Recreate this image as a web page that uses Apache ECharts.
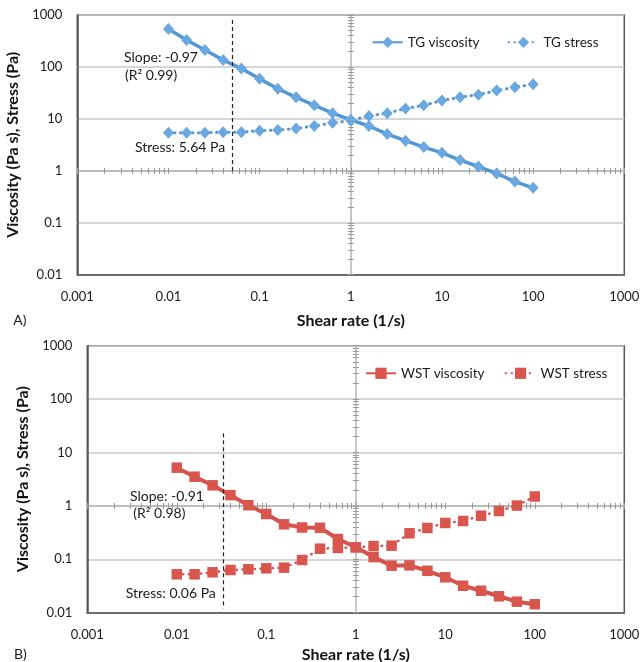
<!DOCTYPE html>
<html>
<head>
<meta charset="utf-8">
<script src="https://cdn.jsdelivr.net/npm/echarts@6/dist/echarts.min.js"></script>
<style>
  html, body { margin: 0; padding: 0; background: #fff; }
  #main { width: 641px; height: 662px; }
</style>
</head>
<body>
<div id="main"></div>
<script>
// shear rate steps (1/s), shared by both panels
var shearRate = [0.01, 0.0158, 0.0251, 0.0398, 0.0631, 0.1, 0.158, 0.251, 0.398, 0.631,
  1, 1.58, 2.51, 3.98, 6.31, 10, 15.8, 25.1, 39.8, 63.1, 100];

// panel A - TG
var tgViscosity = [538, 330, 212, 136, 93, 59, 38, 26, 18.3, 12.9,
  9.6, 7.3, 5.1, 3.8, 2.86, 2.22, 1.61, 1.21, 0.89, 0.62, 0.47];
var tgStress = [5.4, 5.4, 5.4, 5.55, 5.55, 5.9, 6.1, 6.5, 7.3, 8.4,
  9.3, 11.4, 12.9, 15.8, 18.3, 22.5, 26.1, 29.3, 35, 40.7, 46.4];

// panel B - WST
var wstViscosity = [5.19, 3.52, 2.43, 1.59, 1.03, 0.705, 0.452, 0.394, 0.389, 0.24,
  0.168, 0.11, 0.076, 0.077, 0.061, 0.046, 0.032, 0.0258, 0.0203, 0.0161, 0.0144];
var wstStress = [0.0524, 0.0524, 0.0571, 0.0631, 0.065, 0.0678, 0.0697, 0.097, 0.158, 0.163,
  0.168, 0.177, 0.18, 0.307, 0.386, 0.479, 0.521, 0.655, 0.802, 1.016, 1.5];

// tick labels
var xTicks = [0.001, 0.01, 0.1, 1, 10, 100, 1000];
var yTicks = [0.01, 0.1, 1, 10, 100, 1000];

// dashed guide lines [x, yTop, yBottom]
var tgGuide = [0.05, 800, 0.95];
var wstGuide = [0.033, 23, 0.012];

// log minor ticks (1..9 per decade) for the axes that cross at 1
function minorTicks(decades) {
  var out = [];
  for (var d = 0; d < decades.length - 1; d++) {
    for (var k = 1; k < 10; k++) out.push(+(decades[d] * k).toPrecision(3));
  }
  out.push(decades[decades.length - 1]);
  return out;
}
var xMinor = minorTicks(xTicks);
var yMinor = minorTicks(yTicks);

var FONT = "Lato";
var blueLine = "#5197d5", blueSym = "#6aa8df";
var redLine = "#d6524c", redSym = "#d9564f";

function pairs(ys) {
  return shearRate.map(function (x, i) { return [x, ys[i]]; });
}
function fmt(v) { return String(+(+v).toPrecision(3)); }

var grids = [
  { left: 77.3, top: 15, right: 16.7, height: 259.7 },
  { left: 87.3, top: 345.7, right: 16.7, height: 267 }
];
var crossX = [103.7, 106.8];   // px from grid bottom to the y = 1 line
var crossY = [273.6, 268.5];   // px from grid left to the x = 1 line

var xAxis = [], yAxis = [];
grids.forEach(function (g, gi) {
  g.show = true;
  g.borderColor = "#555";
  g.borderWidth = 1.5;
  g.outerBoundsMode = "none";
  g.containLabel = false;

  xAxis.push({
    type: "log", gridIndex: gi, min: 0.001, max: 1000, logBase: 10,
    name: "Shear rate (1/s)", nameLocation: "middle", nameGap: gi === 0 ? 38 : 34,
    nameTextStyle: { fontFamily: FONT, fontWeight: "bold", fontSize: 16, color: "#111" },
    axisLine: { show: true, onZero: false, lineStyle: { color: "#555", width: 1.5 } },
    axisTick: { show: false, customValues: xTicks },
    axisLabel: { customValues: xTicks, margin: 16, fontFamily: FONT, fontSize: 13, color: "#1a1a1a", formatter: fmt },
    splitLine: { show: false }
  });
  // y = 1 crossing axis, ticks down
  xAxis.push({
    type: "log", gridIndex: gi, min: 0.001, max: 1000, position: "bottom", offset: -crossX[gi],
    axisLine: { show: true, onZero: false, lineStyle: { color: "#b4b4b4", width: 1.5 } },
    axisTick: { show: true, customValues: xMinor, length: 3, lineStyle: { color: "#999" } },
    axisLabel: { show: false }, splitLine: { show: false }
  });
  // y = 1 crossing axis, ticks up
  xAxis.push({
    type: "log", gridIndex: gi, min: 0.001, max: 1000, position: "bottom", offset: -crossX[gi],
    axisLine: { show: false, onZero: false },
    axisTick: { show: true, inside: true, customValues: xMinor, length: 3, lineStyle: { color: "#999" } },
    axisLabel: { show: false }, splitLine: { show: false }
  });

  yAxis.push({
    type: "log", gridIndex: gi, min: 0.01, max: 1000, logBase: 10,
    name: "Viscosity (Pa s), Stress (Pa)", nameLocation: "middle", nameGap: gi === 0 ? 52 : 54,
    nameTextStyle: { fontFamily: FONT, fontWeight: "bold", fontSize: 16, color: "#111" },
    axisLine: { show: true, onZero: false, lineStyle: { color: "#555", width: 1.5 } },
    axisTick: { show: false, customValues: yTicks },
    axisLabel: { customValues: yTicks, margin: 15, fontFamily: FONT, fontSize: 13, color: "#1a1a1a", formatter: fmt },
    splitLine: { show: true, lineStyle: { color: "#c8c8c8", width: 1.5 } }
  });
  // x = 1 crossing axis
  yAxis.push({
    type: "log", gridIndex: gi, min: 0.01, max: 1000, position: "left", offset: -crossY[gi],
    axisLine: { show: true, onZero: false, lineStyle: { color: "#b4b4b4", width: 1.5 } },
    axisTick: { show: true, customValues: yMinor, length: 3, lineStyle: { color: "#999" } },
    axisLabel: { show: false }, splitLine: { show: false }
  });
  yAxis.push({
    type: "log", gridIndex: gi, min: 0.01, max: 1000, position: "left", offset: -crossY[gi],
    axisLine: { show: false, onZero: false },
    axisTick: { show: true, inside: true, customValues: yMinor, length: 3, lineStyle: { color: "#999" } },
    axisLabel: { show: false }, splitLine: { show: false }
  });
});

function guideLine(g) {
  return {
    silent: true, symbol: "none", label: { show: false },
    lineStyle: { color: "#222", type: [4, 3], width: 1.2 },
    data: [[{ coord: [g[0], g[1]] }, { coord: [g[0], g[2]] }]]
  };
}

var series = [
  {
    name: "TG viscosity", type: "line", xAxisIndex: 0, yAxisIndex: 0,
    data: pairs(tgViscosity), symbol: "diamond", symbolSize: [11, 12],
    lineStyle: { color: blueLine, width: 3.5 }, itemStyle: { color: blueSym },
    markLine: guideLine(tgGuide)
  },
  {
    name: "TG stress", type: "line", xAxisIndex: 0, yAxisIndex: 0,
    data: pairs(tgStress), symbol: "diamond", symbolSize: [11, 12],
    lineStyle: { color: blueLine, width: 3, type: [0.5, 5.5], cap: "round" },
    itemStyle: { color: blueSym }
  },
  {
    name: "WST viscosity", type: "line", xAxisIndex: 3, yAxisIndex: 3,
    data: pairs(wstViscosity), symbol: "rect", symbolSize: 10.5,
    lineStyle: { color: redLine, width: 4 }, itemStyle: { color: redSym },
    markLine: guideLine(wstGuide)
  },
  {
    name: "WST stress", type: "line", xAxisIndex: 3, yAxisIndex: 3,
    data: pairs(wstStress), symbol: "rect", symbolSize: 10.5,
    lineStyle: { color: redLine, width: 2.5, type: [0.5, 5.5], cap: "round" },
    itemStyle: { color: redSym }
  }
];

function txt(x, y, s) {
  return {
    type: "text", x: x, y: y,
    style: { text: s, fontFamily: FONT, fontSize: 14, fill: "#1a1a1a", verticalAlign: "middle", align: "left" }
  };
}

var legendCommon = {
  orient: "horizontal", itemWidth: 30, itemHeight: 14, padding: 0,
  textStyle: { fontFamily: FONT, fontSize: 13.5, color: "#1a1a1a" }
};

var myChart = echarts.init(document.getElementById("main"));
myChart.setOption({
  animation: false,
  backgroundColor: "#fff",
  grid: grids,
  xAxis: xAxis,
  yAxis: yAxis,
  legend: [
    Object.assign({ data: ["TG viscosity", "TG stress"], left: 371.7, top: 35.3, itemGap: 28 }, legendCommon),
    Object.assign({ data: ["WST viscosity", "WST stress"], left: 365, top: 366.3, itemGap: 20 }, legendCommon)
  ],
  series: series,
  graphic: [
    txt(124, 57.7, "Slope: -0.97"),
    txt(125, 75, "(R\u00b2 0.99)"),
    txt(135, 147.3, "Stress: 5.64 Pa"),
    txt(130, 496, "Slope: -0.91"),
    txt(133.3, 513.3, "(R\u00b2 0.98)"),
    txt(125.7, 593.3, "Stress: 0.06 Pa"),
    txt(13.3, 320, "A)"),
    txt(14, 654, "B)")
  ]
});
</script>
</body>
</html>
